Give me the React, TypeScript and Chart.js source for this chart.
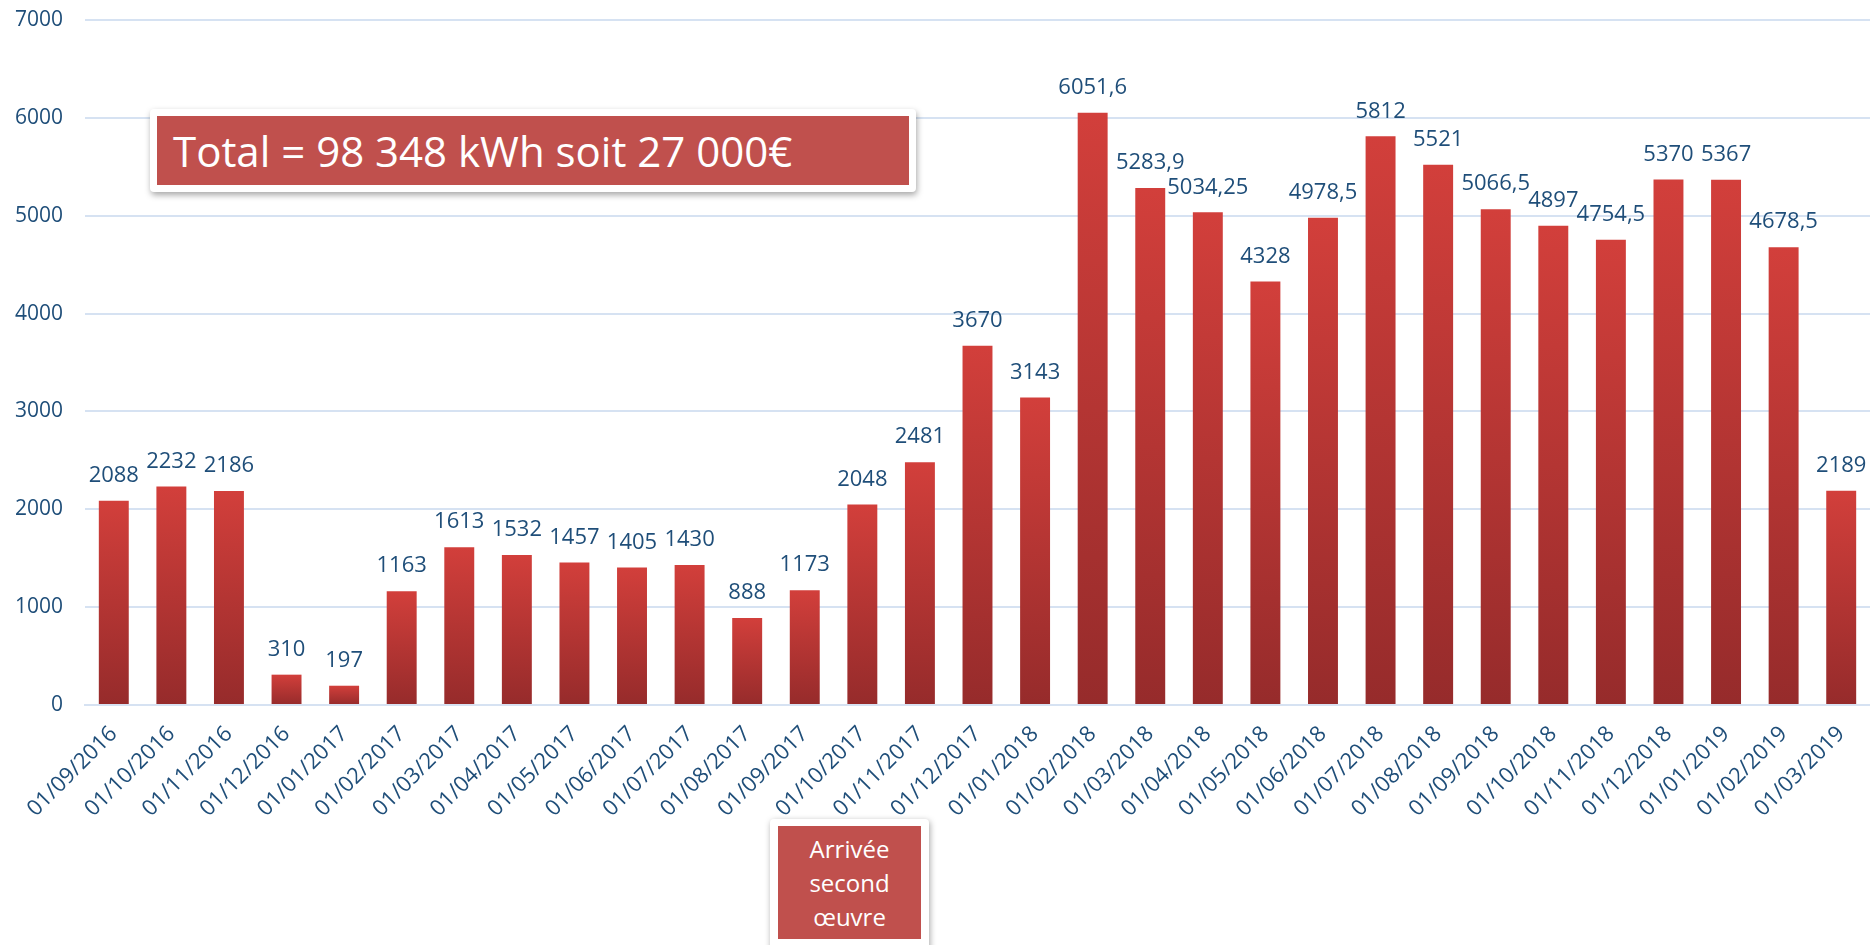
import React, { useEffect, useRef } from "react";
import { Chart, registerables } from "chart.js";

Chart.register(...registerables);

const categories: string[] = [
  "01/09/2016", "01/10/2016", "01/11/2016", "01/12/2016", "01/01/2017", "01/02/2017",
  "01/03/2017", "01/04/2017", "01/05/2017", "01/06/2017", "01/07/2017", "01/08/2017",
  "01/09/2017", "01/10/2017", "01/11/2017", "01/12/2017", "01/01/2018", "01/02/2018",
  "01/03/2018", "01/04/2018", "01/05/2018", "01/06/2018", "01/07/2018", "01/08/2018",
  "01/09/2018", "01/10/2018", "01/11/2018", "01/12/2018", "01/01/2019", "01/02/2019",
  "01/03/2019",
];

const consumption: number[] = [
  2088, 2232, 2186, 310, 197, 1163,
  1613, 1532, 1457, 1405, 1430, 888,
  1173, 2048, 2481, 3670, 3143, 6051.6,
  5283.9, 5034.25, 4328, 4978.5, 5812, 5521,
  5066.5, 4897, 4754.5, 5370, 5367, 4678.5,
  2189,
];

const yTicks: number[] = [0, 1000, 2000, 3000, 4000, 5000, 6000, 7000];

const totalText = "Total = 98 348 kWh soit 27 000€";
const noteLines: string[] = ["Arrivée", "second", "œuvre"];

const FONT = "'Open Sans', sans-serif";
const BLUE = "#1F4E79";

const dataLabelPlugin = {
  id: "dataLabels",
  afterDatasetsDraw(chart: any) {
    const ctx = chart.ctx;
    const meta = chart.getDatasetMeta(0);
    ctx.save();
    ctx.font = `22px ${FONT}`;
    ctx.fillStyle = BLUE;
    ctx.textAlign = "center";
    ctx.textBaseline = "middle";
    meta.data.forEach((bar: any, i: number) => {
      const v = consumption[i];
      ctx.fillText(String(v).replace(".", ","), bar.x, bar.y - 25);
    });
    ctx.restore();
  },
};

export default function App() {
  const ref = useRef<HTMLCanvasElement | null>(null);

  useEffect(() => {
    document.body.style.margin = "0";
    const canvas = ref.current;
    if (!canvas) return;
    const chart = new Chart(canvas, {
      type: "bar",
      data: {
        labels: categories,
        datasets: [
          {
            data: consumption,
            backgroundColor: (c: any) => {
              const ch = c.chart;
              const ys = ch.scales && ch.scales.y;
              if (!ys || c.type !== "data" || !ch.chartArea) return "#B83432";
              const top = ys.getPixelForValue(c.raw);
              const bottom = ys.getPixelForValue(0);
              if (!isFinite(top) || !isFinite(bottom) || top === bottom) return "#B83432";
              const g = ch.ctx.createLinearGradient(0, top, 0, bottom);
              g.addColorStop(0, "#D23F3B");
              g.addColorStop(1, "#962B2B");
              return g;
            },
            borderWidth: 0,
            barPercentage: 0.52,
            categoryPercentage: 1,
          },
        ],
      },
      options: {
        responsive: true,
        maintainAspectRatio: false,
        animation: false,
        layout: { padding: { top: 20, right: 0, bottom: 0, left: 0 } },
        plugins: {
          legend: { display: false },
          tooltip: { enabled: false },
          title: { display: false },
        },
        scales: {
          x: {
            grid: { display: false, drawTicks: false },
            border: { display: true, color: "#D6E2F2", width: 2 },
            ticks: {
              font: { family: FONT, size: 22 },
              color: BLUE,
              maxRotation: 45,
              minRotation: 45,
              autoSkip: false,
              padding: 16,
            },
            afterFit: (s: any) => {
              s.height = 240;
              s.paddingTop = 0;
              s.paddingRight = 0;
              s.paddingLeft = 0;
            },
          },
          y: {
            min: 0,
            max: 7000,
            afterBuildTicks: (s: any) => {
              s.ticks = yTicks.map((v) => ({ value: v }));
            },
            grid: { color: "#D6E2F2", lineWidth: 2, drawTicks: false },
            border: { display: false },
            ticks: {
              font: { family: FONT, size: 21 },
              color: BLUE,
              padding: 22,
              callback: (v: any) => String(v),
            },
            afterFit: (s: any) => {
              s.width = 85;
              s.paddingTop = 0;
              s.paddingBottom = 0;
            },
          },
        },
      },
      plugins: [dataLabelPlugin],
    });
    return () => chart.destroy();
  }, []);

  return (
    <div style={{ position: "relative", width: 1870, height: 945, background: "#fff", overflow: "hidden" }}>
      <canvas ref={ref} style={{ position: "absolute", left: 0, top: 0, width: 1870, height: 945 }} />
      <div
        style={{
          position: "absolute",
          left: 150,
          top: 109,
          width: 766,
          height: 83,
          background: "#fff",
          borderRadius: 4,
          boxShadow: "1px 3px 6px rgba(0,0,0,0.35)",
        }}
      >
        <div
          style={{
            position: "absolute",
            left: 7,
            top: 7,
            right: 7,
            bottom: 7,
            background: "#C0504D",
            color: "#fff",
            fontFamily: FONT,
            fontSize: 42,
            lineHeight: "69px",
            paddingLeft: 16,
            whiteSpace: "nowrap",
          }}
        >
          {totalText}
        </div>
      </div>
      <div
        style={{
          position: "absolute",
          left: 770,
          top: 819,
          width: 159,
          height: 140,
          background: "#fff",
          borderRadius: 4,
          boxShadow: "1px 2px 6px rgba(0,0,0,0.35)",
        }}
      >
        <div
          style={{
            position: "absolute",
            left: 8,
            top: 7,
            width: 143,
            height: 113,
            background: "#C0504D",
            color: "#fff",
            fontFamily: FONT,
            fontSize: 24,
            lineHeight: "34px",
            textAlign: "center",
            paddingTop: 6,
            boxSizing: "border-box",
          }}
        >
          {noteLines.map((l) => (
            <div key={l}>{l}</div>
          ))}
        </div>
      </div>
    </div>
  );
}
